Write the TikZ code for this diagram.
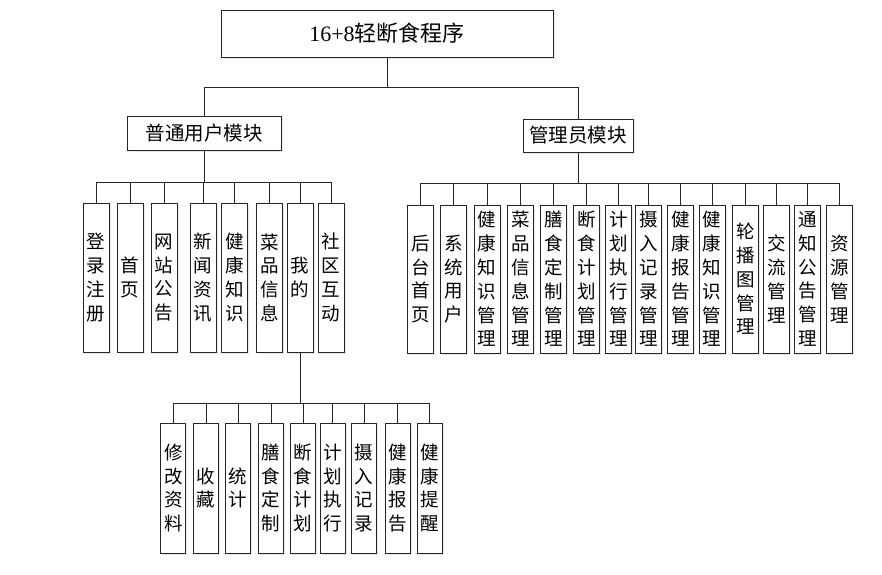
\documentclass[tikz,border=0pt]{standalone}
\usepackage{fontspec}
\setmainfont{Liberation Serif}
\newfontfamily\cjk{Noto Sans CJK SC}
\usetikzlibrary{shadows}
\tikzset{
  box/.style={draw=black!85, line width=0.9pt, fill=white, inner sep=0pt, align=center,
    drop shadow={opacity=0.18, shadow xshift=1.5pt, shadow yshift=-1.5pt}},
  titlebox/.style={box, minimum width=332pt, minimum height=47pt, font=\fontsize{22}{26}\selectfont},
  modbox/.style={box, minimum height=34pt, font=\cjk\fontsize{19.5}{24}\selectfont},
  leaf/.style={box, minimum width=26pt, minimum height=149pt, font=\cjk\fontsize{18.5}{23.8}\selectfont},
  aleaf/.style={leaf, minimum height=148pt},
  bleaf/.style={leaf, minimum width=25pt, minimum height=130pt},
  link/.style={draw=black!85, line width=0.9pt},
}
\begin{document}
\begin{tikzpicture}[x=1pt, y=-1pt]
\useasboundingbox (0,0) rectangle (882,574);
% title and modules
\node[titlebox] (title) at (387,33.5) {16+8{\cjk 轻断食程序}};
\node[modbox, minimum width=154pt] (user) at (204,133) {普通用户模块};
\node[modbox, minimum width=110pt, minimum height=33pt] (admin) at (578,135.5) {管理员模块};
\coordinate (b0) at (0,87);
\draw[link] (title.south) -- (title.south |- b0) -| (user.north);
\draw[link] (title.south |- b0) -| (admin.north);
% user leaves
\coordinate (b1) at (0,182);
\node[leaf] (u1) at (96,277.5) {登\\录\\注\\册};
\node[leaf] (u2) at (130,277.5) {首\\页};
\node[leaf] (u3) at (164,277.5) {网\\站\\公\\告};
\node[leaf] (u4) at (203,277.5) {新\\闻\\资\\讯};
\node[leaf] (u5) at (234.5,277.5) {健\\康\\知\\识};
\node[leaf] (u6) at (269.5,277.5) {菜\\品\\信\\息};
\node[leaf] (u7) at (300,277.5) {我\\的};
\node[leaf] (u8) at (331,277.5) {社\\区\\互\\动};
\draw[link] (user.south) -- (user.south |- b1);
\foreach \n in {u1,u2,u3,u4,u5,u6,u7,u8}
  \draw[link] (user.south |- b1) -| (\n.north);
% admin leaves
\coordinate (b2) at (0,183);
\node[aleaf] (a1) at (420.3,279) {后\\台\\首\\页};
\node[aleaf] (a2) at (453.7,279) {系\\统\\用\\户};
\node[aleaf] (a3) at (487,279) {健\\康\\知\\识\\管\\理};
\node[aleaf] (a4) at (520.3,279) {菜\\品\\信\\息\\管\\理};
\node[aleaf] (a5) at (553.7,279) {膳\\食\\定\\制\\管\\理};
\node[aleaf] (a6) at (586.3,279) {断\\食\\计\\划\\管\\理};
\node[aleaf] (a7) at (618.7,279) {计\\划\\执\\行\\管\\理};
\node[aleaf] (a8) at (648.7,279) {摄\\入\\记\\录\\管\\理};
\node[aleaf] (a9) at (680.3,279) {健\\康\\报\\告\\管\\理};
\node[aleaf] (a10) at (712,279) {健\\康\\知\\识\\管\\理};
\node[aleaf] (a11) at (745.7,279) {轮\\播\\图\\管\\理};
\node[aleaf] (a12) at (776.3,279) {交\\流\\管\\理};
\node[aleaf] (a13) at (807.3,279) {通\\知\\公\\告\\管\\理};
\node[aleaf] (a14) at (839.7,279) {资\\源\\管\\理};
\draw[link] (admin.south) -- (admin.south |- b2);
\foreach \n in {a1,a2,a3,a4,a5,a6,a7,a8,a9,a10,a11,a12,a13,a14}
  \draw[link] (admin.south |- b2) -| (\n.north);
% "my" leaves
\coordinate (b3) at (0,403);
\node[bleaf] (m1) at (173.3,488) {修\\改\\资\\料};
\node[bleaf] (m2) at (206,488) {收\\藏};
\node[bleaf] (m3) at (238,488) {统\\计};
\node[bleaf] (m4) at (271,488) {膳\\食\\定\\制};
\node[bleaf] (m5) at (303,488) {断\\食\\计\\划};
\node[bleaf] (m6) at (332.5,488) {计\\划\\执\\行};
\node[bleaf] (m7) at (364,488) {摄\\入\\记\\录};
\node[bleaf] (m8) at (397.5,488) {健\\康\\报\\告};
\node[bleaf] (m9) at (429.8,488) {健\\康\\提\\醒};
\draw[link] (u7.south) -- (u7.south |- b3);
\foreach \n in {m1,m2,m3,m4,m5,m6,m7,m8,m9}
  \draw[link] (u7.south |- b3) -| (\n.north);
\end{tikzpicture}
\end{document}
